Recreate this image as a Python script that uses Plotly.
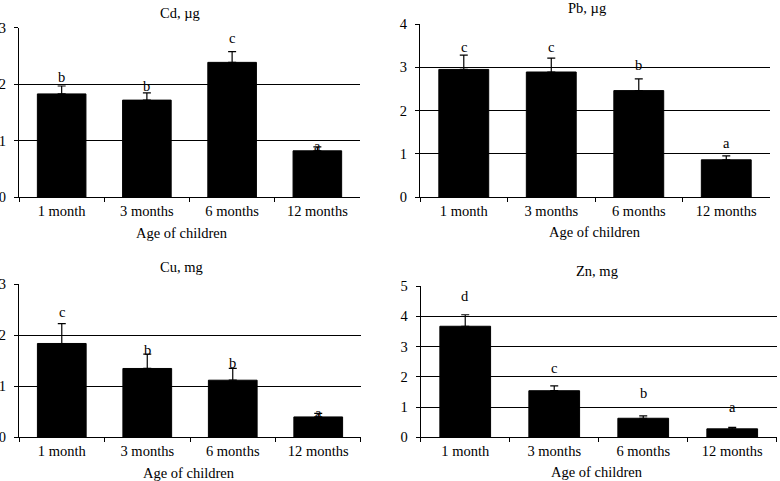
import plotly.graph_objects as go

ages = ["1 month", "3 months", "6 months", "12 months"]

cd_mean = [1.83, 1.72, 2.39, 0.82]
cd_err = [0.14, 0.13, 0.19, 0.07]
cd_letters = ["b", "b", "c", "a"]
cd_letter_y = [2.13, 1.97, 2.82, 0.91]

pb_mean = [2.95, 2.89, 2.46, 0.86]
pb_err = [0.33, 0.32, 0.27, 0.09]
pb_letters = ["c", "c", "b", "a"]
pb_letter_y = [3.47, 3.47, 3.05, 1.24]

cu_mean = [1.84, 1.35, 1.12, 0.40]
cu_err = [0.39, 0.28, 0.23, 0.07]
cu_letters = ["c", "b", "b", "a"]
cu_letter_y = [2.46, 1.71, 1.45, 0.47]

zn_mean = [3.67, 1.54, 0.63, 0.28]
zn_err = [0.38, 0.16, 0.08, 0.05]
zn_letters = ["d", "c", "b", "a"]
zn_letter_y = [4.67, 2.28, 1.45, 1.01]

panels = [
    ("Cd, µg", cd_mean, cd_err, cd_letters, cd_letter_y, 3),
    ("Pb, µg", pb_mean, pb_err, pb_letters, pb_letter_y, 4),
    ("Cu, mg", cu_mean, cu_err, cu_letters, cu_letter_y, 3),
    ("Zn, mg", zn_mean, zn_err, zn_letters, zn_letter_y, 5),
]

# domains in paper coords, title pos, x-title pos
doms = [
    ([0.0244, 0.4615], [0.5904, 0.9418], (0.231, 0.973), (0.233, 0.5156)),
    ([0.5385, 0.9872], [0.5904, 0.9501], (0.7526, 0.983), (0.763, 0.5177)),
    ([0.0244, 0.4628], [0.0908, 0.4089], (0.233, 0.4455), (0.242, 0.016)),
    ([0.5394, 0.9958], [0.0908, 0.4054], (0.765, 0.437), (0.766, 0.0194)),
]

FONT = "Liberation Serif, Times New Roman, serif"
FS = 14.5

fig = go.Figure()
annotations = []
for i, ((title, mean, err, letters, ly, ymax), (xd, yd, tpos, xtpos)) in enumerate(zip(panels, doms)):
    n = "" if i == 0 else str(i + 1)
    fig.add_trace(
        go.Bar(
            x=ages,
            y=mean,
            xaxis="x" + n,
            yaxis="y" + n,
            width=0.57,
            marker=dict(color="black", line=dict(color="black", width=1)),
            error_y=dict(
                type="data",
                symmetric=False,
                array=err,
                arrayminus=[0] * len(err),
                color="black",
                thickness=1.2,
                width=4,
            ),
            showlegend=False,
        )
    )
    for cat, lab, yy in zip(ages, letters, ly):
        annotations.append(
            dict(
                text=lab, x=cat, y=yy, xref="x" + n, yref="y" + n,
                showarrow=False, xanchor="center", yanchor="middle",
                font=dict(family=FONT, size=FS, color="black"),
            )
        )
    fig.update_layout(
        {
            "xaxis" + n: dict(
                domain=xd,
                anchor="y" + n,
                type="category",
                tickson="boundaries",
                ticks="outside",
                ticklen=4,
                tickcolor="black",
                showline=True,
                linecolor="black",
                linewidth=1.2,
                showgrid=False,
                automargin=False,
                tickfont=dict(family=FONT, size=FS, color="black"),
                fixedrange=True,
            ),
            "yaxis" + n: dict(
                domain=yd,
                anchor="x" + n,
                range=[0, ymax],
                dtick=1,
                ticks="outside",
                ticklen=4,
                tickcolor="black",
                showline=True,
                linecolor="black",
                linewidth=1.2,
                showgrid=True,
                gridcolor="black",
                gridwidth=1,
                zeroline=False,
                automargin=False,
                tickfont=dict(family=FONT, size=FS, color="black"),
                ticklabelstandoff=5,
                fixedrange=True,
            ),
        }
    )
    annotations.append(
        dict(
            text=title, x=tpos[0], y=tpos[1], xref="paper", yref="paper",
            showarrow=False, xanchor="center", yanchor="middle",
            font=dict(family=FONT, size=FS, color="black"),
        )
    )
    annotations.append(
        dict(
            text="Age of children", x=xtpos[0], y=xtpos[1], xref="paper", yref="paper",
            showarrow=False, xanchor="center", yanchor="middle",
            font=dict(family=FONT, size=FS, color="black"),
        )
    )

fig.update_layout(
    width=780,
    height=481,
    margin=dict(l=0, r=0, t=0, b=0, autoexpand=False),
    paper_bgcolor="white",
    plot_bgcolor="white",
    annotations=annotations,
)

fig.write_html(
    "out.html",
    config={"displayModeBar": False},
    post_script="document.body.style.margin='0';document.body.style.overflow='hidden';",
)
